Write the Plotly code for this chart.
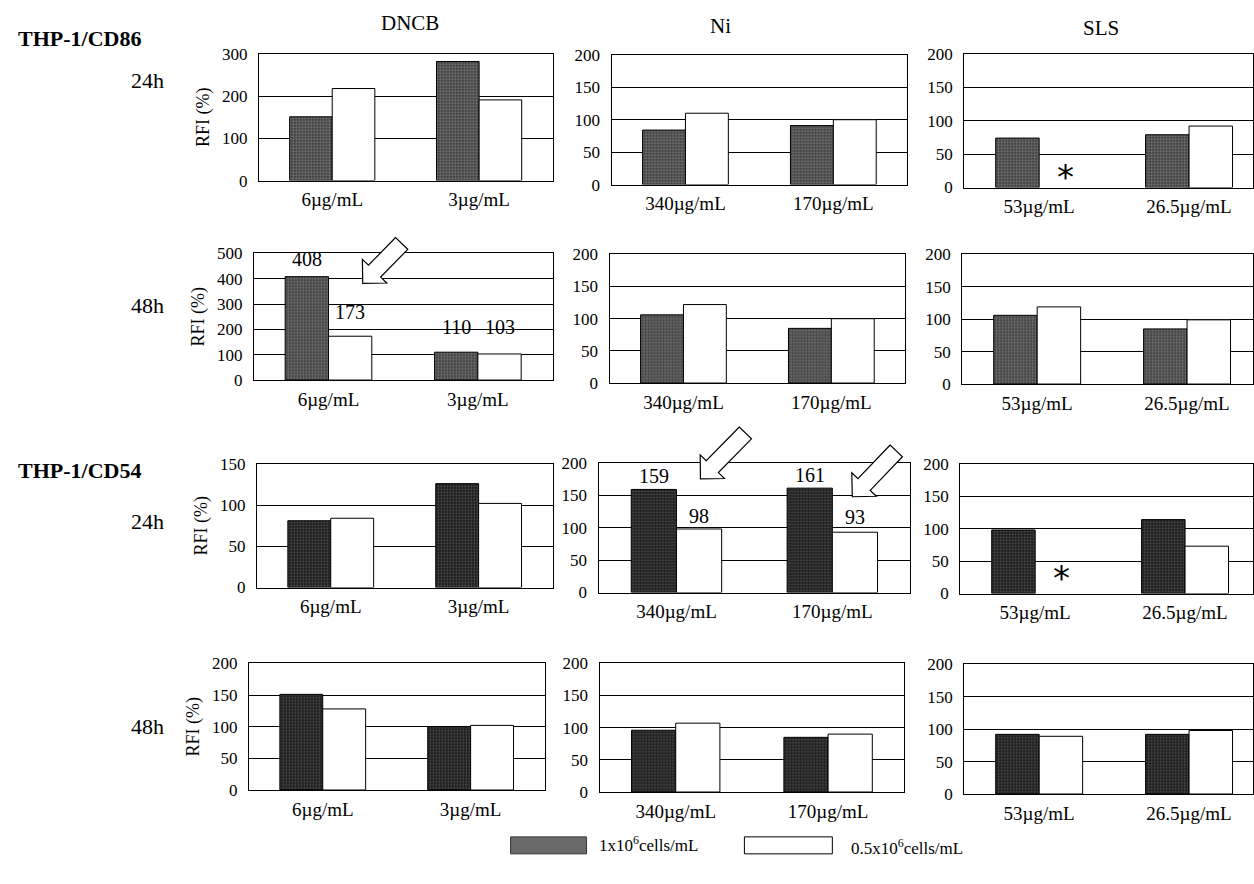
import plotly.graph_objects as go

W, H = 1254, 884
SERIF = "Liberation Serif, Times New Roman, serif"

# ---------------- data ----------------
compounds = ["DNCB", "Ni", "SLS"]
DNCB_conc = ["6µg/mL", "3µg/mL"]
Ni_conc = ["340µg/mL", "170µg/mL"]
SLS_conc = ["53µg/mL", "26.5µg/mL"]
series_names = ["1x10<sup>6</sup>cells/mL", "0.5x10<sup>6</sup>cells/mL"]

# THP-1/CD86, 24h
cd86_24_dncb_hi = [151, 282]; cd86_24_dncb_lo = [218, 191]
cd86_24_ni_hi = [84, 91];     cd86_24_ni_lo = [110, 100]
cd86_24_sls_hi = [74, 79];    cd86_24_sls_lo = [None, 92]
# THP-1/CD86, 48h
cd86_48_dncb_hi = [408, 110]; cd86_48_dncb_lo = [173, 103]
cd86_48_ni_hi = [106, 85];    cd86_48_ni_lo = [122, 100]
cd86_48_sls_hi = [106, 85];   cd86_48_sls_lo = [119, 99]
# THP-1/CD54, 24h
cd54_24_dncb_hi = [81, 126];  cd54_24_dncb_lo = [84, 102]
cd54_24_ni_hi = [159, 161];   cd54_24_ni_lo = [98, 93]
cd54_24_sls_hi = [98, 114];   cd54_24_sls_lo = [None, 73]
# THP-1/CD54, 48h
cd54_48_dncb_hi = [151, 100]; cd54_48_dncb_lo = [128, 102]
cd54_48_ni_hi = [96, 85];     cd54_48_ni_lo = [107, 90]
cd54_48_sls_hi = [92, 92];    cd54_48_sls_lo = [89, 98]

# y-axis maxima / tick steps per row (DNCB, Ni, SLS)
ymax_rows = [[300, 200, 200], [500, 200, 200], [150, 200, 200], [200, 200, 200]]
dtick_rows = [[100, 50, 50], [100, 50, 50], [50, 50, 50], [50, 50, 50]]

# ---------------- layout geometry (pixels) ----------------
# (left, right, top, bottom) of each plot area
boxes = [
    [(259, 553, 53, 180), (612, 908, 54, 184), (965, 1265, 53, 187)],
    [(254, 553, 253, 380), (610, 906, 254, 383), (963, 1263, 254, 384)],
    [(257, 553, 464, 588), (599, 911, 463, 593), (961, 1261, 464, 594)],
    [(249, 545, 664, 791), (600, 905, 664, 793), (965, 1265, 665, 795)],
]
BARGAP = 0.42

def px(x):
    return x / W

def py(y):
    # empirical vertical correction for the capture
    yc = (y - 8.0) / 0.981
    return 1 - yc / H

data = [
    [(DNCB_conc, cd86_24_dncb_hi, cd86_24_dncb_lo), (Ni_conc, cd86_24_ni_hi, cd86_24_ni_lo), (SLS_conc, cd86_24_sls_hi, cd86_24_sls_lo)],
    [(DNCB_conc, cd86_48_dncb_hi, cd86_48_dncb_lo), (Ni_conc, cd86_48_ni_hi, cd86_48_ni_lo), (SLS_conc, cd86_48_sls_hi, cd86_48_sls_lo)],
    [(DNCB_conc, cd54_24_dncb_hi, cd54_24_dncb_lo), (Ni_conc, cd54_24_ni_hi, cd54_24_ni_lo), (SLS_conc, cd54_24_sls_hi, cd54_24_sls_lo)],
    [(DNCB_conc, cd54_48_dncb_hi, cd54_48_dncb_lo), (Ni_conc, cd54_48_ni_hi, cd54_48_ni_lo), (SLS_conc, cd54_48_sls_hi, cd54_48_sls_lo)],
]

gray_styles = [
    ("#3a3a3a", "#b4b4b4", 0.45),
    ("#3a3a3a", "#b4b4b4", 0.45),
    ("#1c1c1c", "#8e8e8e", 0.28),
    ("#1c1c1c", "#8e8e8e", 0.28),
]

# value-label vertical offsets (px): (row, col) -> [[hi cat0, hi cat1], [lo cat0, lo cat1]]
labelled = {(1, 0): [[5, 12], [11, 14]], (2, 1): [[0, 0], [0, 2]]}
# missing-value asterisks: (row, col, category index, y value)
asterisks = [(0, 2, 0, 30), (2, 2, 0, 39)]

fig = go.Figure()
annotations = []
shapes = []

k = 0
for r in range(4):
    for c in range(3):
        k += 1
        xa = "x" if k == 1 else f"x{k}"
        ya = "y" if k == 1 else f"y{k}"
        xl = "xaxis" if k == 1 else f"xaxis{k}"
        yl = "yaxis" if k == 1 else f"yaxis{k}"
        L, R, T, B = boxes[r][c]
        Rv = min(R, W)
        span = 2.0
        x_hi = -0.5 + span * (Rv - L) / (R - L)
        cats, hi, lo = data[r][c]
        dark, light, sol = gray_styles[r]

        fig.add_trace(go.Bar(
            x=cats, y=hi, xaxis=xa, yaxis=ya, name="1x10⁶cells/mL",
            marker=dict(color=dark, line=dict(color="black", width=1),
                        pattern=dict(shape=".", fgcolor=light, size=3, solidity=sol)),
            showlegend=False))
        fig.add_trace(go.Bar(
            x=cats, y=lo, xaxis=xa, yaxis=ya, name="0.5x10⁶cells/mL",
            marker=dict(color="white", line=dict(color="black", width=1)),
            showlegend=False))

        fig.layout[xl] = dict(
            domain=[px(L), px(Rv)], anchor=ya, type="category",
            range=[-0.5, x_hi], showline=True, mirror=True, linecolor="black",
            linewidth=1, ticks="", showgrid=False, ticklabelstandoff=2,
            tickfont=dict(family=SERIF, size=19, color="black"), fixedrange=True)
        ycfg = dict(
            domain=[py(B), py(T)], anchor=xa, range=[0, ymax_rows[r][c]],
            dtick=dtick_rows[r][c], tick0=0, showline=True, mirror=True,
            linecolor="black", linewidth=1, ticks="", showgrid=True,
            gridcolor="black", gridwidth=1, zeroline=False, ticklabelstandoff=7,
            tickfont=dict(family=SERIF, size=17, color="black"), fixedrange=True)
        if c == 0:
            ycfg["title"] = dict(text="RFI (%)", standoff=7,
                                 font=dict(family=SERIF, size=18, color="black"))
        fig.layout[yl] = ycfg

        ppc = (R - L) / span
        off = ppc * (1 - BARGAP) / 4
        # value labels
        if (r, c) in labelled:
            shifts = labelled[(r, c)]
            for i, cat in enumerate(cats):
                for s, (vals, sgn) in enumerate(((hi, -1), (lo, 1))):
                    v = vals[i]
                    if v is None:
                        continue
                    annotations.append(dict(
                        x=cat, y=v, xref=xa, yref=ya, text=str(v), showarrow=False,
                        xshift=sgn * off, yshift=shifts[s][i],
                        xanchor="center", yanchor="bottom",
                        font=dict(family=SERIF, size=20, color="black")))
        for (ar, ac, ci, yv) in asterisks:
            if (ar, ac) == (r, c):
                annotations.append(dict(
                    x=cats[ci], y=yv, xref=xa, yref=ya, text="*", showarrow=False,
                    xshift=off + 5, yshift=-10, xanchor="center", yanchor="middle",
                    font=dict(family="DejaVu Sans", size=34, color="black")))

fig.update_layout(barmode="group", bargap=BARGAP, bargroupgap=0)

# column titles
col_title_pos = [(410, 22), (721, 25), (1102, 27)]
for name, (x, y) in zip(compounds, col_title_pos):
    annotations.append(dict(x=px(x), y=py(y), xref="paper", yref="paper", text=name,
                            xanchor="center", yanchor="middle", showarrow=False,
                            font=dict(family=SERIF, size=21, color="black")))

# row labels
for txt, y in (("THP-1/CD86", 38), ("THP-1/CD54", 471)):
    annotations.append(dict(x=px(16), y=py(y), xref="paper", yref="paper",
                            xanchor="left", yanchor="middle",
                            text=f"<b>{txt}</b>", showarrow=False,
                            font=dict(family=SERIF, size=22, color="black")))
for txt, y in (("24h", 80), ("48h", 305), ("24h", 522), ("48h", 727)):
    annotations.append(dict(x=px(166), y=py(y), xref="paper", yref="paper",
                            xanchor="right", yanchor="middle",
                            text=txt, showarrow=False,
                            font=dict(family=SERIF, size=22, color="black")))

# hollow block arrows (tip, tail) in pixels
def arrow_path(tip, tail, shaft=17, head=34, head_len=17):
    tx, ty = tip
    sx, sy = tail
    dx, dy = tx - sx, ty - sy
    n = (dx * dx + dy * dy) ** 0.5
    ux, uy = dx / n, dy / n
    nx, ny = -uy, ux
    bx, by = tx - ux * head_len, ty - uy * head_len
    pts = [
        (sx + nx * shaft / 2, sy + ny * shaft / 2),
        (bx + nx * shaft / 2, by + ny * shaft / 2),
        (bx + nx * head / 2, by + ny * head / 2),
        (tx, ty),
        (bx - nx * head / 2, by - ny * head / 2),
        (bx - nx * shaft / 2, by - ny * shaft / 2),
        (sx - nx * shaft / 2, sy - ny * shaft / 2),
    ]
    return "M " + " L ".join(f"{px(x):.5f},{py(y):.5f}" for x, y in pts) + " Z"

for tip, tail in (((363, 283), (402, 243)), ((701, 479), (746, 433)), ((853, 497), (897, 451))):
    shapes.append(dict(type="path", xref="paper", yref="paper", path=arrow_path(tip, tail),
                       fillcolor="white", line=dict(color="black", width=1.2)))

# legend (drawn manually)
shapes.append(dict(type="rect", xref="paper", yref="paper", x0=px(511), x1=px(587),
                   y0=py(855), y1=py(838), fillcolor="#6a6a6a", line=dict(color="#333", width=1)))
shapes.append(dict(type="rect", xref="paper", yref="paper", x0=px(745), x1=px(833),
                   y0=py(855), y1=py(838), fillcolor="white", line=dict(color="black", width=1)))
annotations.append(dict(x=px(597), y=py(845), xref="paper", yref="paper",
                        xanchor="left", yanchor="middle",
                        text=series_names[0], showarrow=False,
                        font=dict(family=SERIF, size=17, color="black")))
annotations.append(dict(x=px(850), y=py(848), xref="paper", yref="paper",
                        xanchor="left", yanchor="middle",
                        text=series_names[1], showarrow=False,
                        font=dict(family=SERIF, size=17, color="black")))

fig.update_layout(
    width=W, height=H, margin=dict(l=0, r=0, t=0, b=0),
    paper_bgcolor="white", plot_bgcolor="white",
    annotations=annotations, shapes=shapes, showlegend=False,
    font=dict(family=SERIF, color="black"),
)

fig.write_html(
    "out.html",
    config={"displayModeBar": False},
    post_script="document.body.style.margin='0';document.body.style.overflow='hidden';",
)
